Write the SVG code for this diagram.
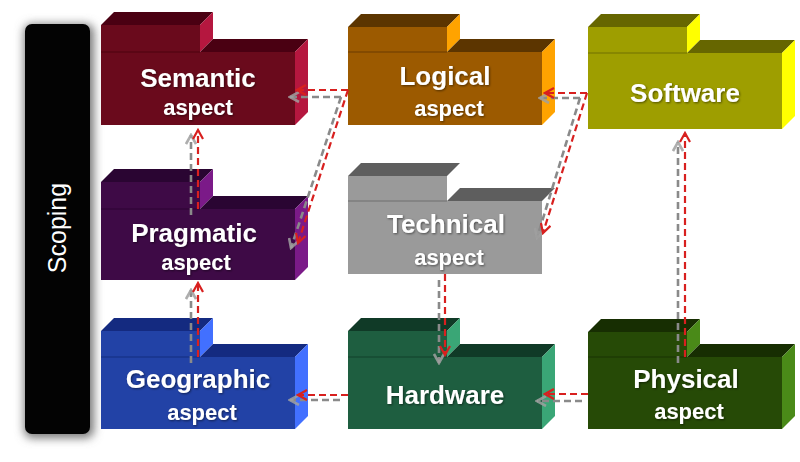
<svg xmlns="http://www.w3.org/2000/svg" width="800" height="462" viewBox="0 0 800 462">
<defs>
<style>
.t{font-family:"Liberation Sans",Arial,sans-serif;font-weight:bold;fill:#fff;text-anchor:middle;filter:url(#ts)}
.big{font-size:26px}
.sm{font-size:22px}
.sep{stroke-width:1.2;stroke-opacity:0.6}
.r{fill:none;stroke:#d8201f;stroke-width:2.2;stroke-dasharray:7 4;marker-end:url(#ar)}
.g{fill:none;stroke:#8a8a8a;stroke-width:2.6;stroke-dasharray:7 4;marker-end:url(#ag)}
</style>
<filter id="ts" x="-10%" y="-20%" width="120%" height="150%">
<feDropShadow dx="1" dy="1" stdDeviation="0.8" flood-color="#000" flood-opacity="0.5"/>
</filter>
<filter id="bl" x="-30%" y="-10%" width="160%" height="120%">
<feGaussianBlur stdDeviation="5"/>
</filter>
<marker id="ar" viewBox="0 0 12 12" refX="10" refY="6" markerWidth="12" markerHeight="12" markerUnits="userSpaceOnUse" orient="auto">
<path d="M1,1 L10,6 L1,11" fill="none" stroke="#d8201f" stroke-width="2.2"/>
</marker>
<marker id="ag" viewBox="0 0 12 12" refX="10" refY="6" markerWidth="12" markerHeight="12" markerUnits="userSpaceOnUse" orient="auto">
<path d="M1,1 L10,6 L1,11" fill="none" stroke="#a0a0a0" stroke-width="2.6" stroke-opacity="0.85"/>
</marker>
</defs>
<rect width="800" height="462" fill="#fff"/>

<g id="scoping">
<rect x="24" y="24" width="70" height="414" rx="8" fill="#777" filter="url(#bl)"/>
<rect x="25" y="24" width="65" height="410" rx="7" fill="#030303"/>
<text transform="translate(66,228) rotate(-90)" style="font-family:'Liberation Sans',Arial,sans-serif;font-size:25px;fill:#fff;text-anchor:middle">Scoping</text>
</g>

<g id="semantic">
<polygon points="101,25 200,25 200,52 295,52 295,125 101,125" fill="#6a0a1c"/>
<polygon points="101,25 114,12 213,12 200,25" fill="#4a0012"/>
<polygon points="200,25 213,12 213,39 200,52" fill="#b5173f"/>
<polygon points="200,52 213,39 308,39 295,52" fill="#4a0012"/>
<polygon points="295,52 308,39 308,112 295,125" fill="#b5173f"/>
<line x1="101" y1="52" x2="200" y2="52" class="sep" stroke="#3a0008"/>
<text class="t big" x="198" y="87">Semantic</text>
<text class="t sm" x="198" y="115">aspect</text>
</g>

<g id="logical">
<polygon points="348,27 447,27 447,52 542,52 542,125 348,125" fill="#9c5a00"/>
<polygon points="348,27 361,14 460,14 447,27" fill="#5c3500"/>
<polygon points="447,27 460,14 460,39 447,52" fill="#ffa300"/>
<polygon points="447,52 460,39 555,39 542,52" fill="#5c3500"/>
<polygon points="542,52 555,39 555,112 542,125" fill="#ffa300"/>
<line x1="348" y1="52" x2="447" y2="52" class="sep" stroke="#4a2a00"/>
<text class="t big" x="445" y="85">Logical</text>
<text class="t sm" x="449" y="116">aspect</text>
</g>

<g id="software">
<polygon points="588,27 687,27 687,53 782,53 782,129 588,129" fill="#9e9e00"/>
<polygon points="588,27 601,14 700,14 687,27" fill="#666600"/>
<polygon points="687,27 700,14 700,40 687,53" fill="#ffff00"/>
<polygon points="687,53 700,40 795,40 782,53" fill="#666600"/>
<polygon points="782,53 795,40 795,116 782,129" fill="#ffff00"/>
<line x1="588" y1="53" x2="687" y2="53" class="sep" stroke="#555500"/>
<text class="t big" x="685" y="102">Software</text>
</g>

<g id="pragmatic">
<polygon points="101,182 200,182 200,209 295,209 295,280 101,280" fill="#3e0a46"/>
<polygon points="101,182 114,169 213,169 200,182" fill="#2a0532"/>
<polygon points="200,182 213,169 213,196 200,209" fill="#7b1a88"/>
<polygon points="200,209 213,196 308,196 295,209" fill="#2a0532"/>
<polygon points="295,209 308,196 308,267 295,280" fill="#7b1a88"/>
<line x1="101" y1="209" x2="200" y2="209" class="sep" stroke="#22002a"/>
<text class="t big" x="194" y="242">Pragmatic</text>
<text class="t sm" x="196" y="270">aspect</text>
</g>

<g id="technical">
<polygon points="348,176 447,176 447,201 542,201 542,274 348,274" fill="#9a9a9a"/>
<polygon points="348,176 361,163 460,163 447,176" fill="#5e5e5e"/>
<polygon points="447,201 460,188 555,188 542,201" fill="#5e5e5e"/>
<line x1="348" y1="201" x2="447" y2="201" class="sep" stroke="#555"/>
<text class="t big" x="446" y="233">Technical</text>
<text class="t sm" x="449" y="265">aspect</text>
</g>

<g id="geographic">
<polygon points="101,331 200,331 200,357 295,357 295,429 101,429" fill="#2242a6"/>
<polygon points="101,331 114,318 213,318 200,331" fill="#142a80"/>
<polygon points="200,331 213,318 213,344 200,357" fill="#4270ff"/>
<polygon points="200,357 213,344 308,344 295,357" fill="#142a80"/>
<polygon points="295,357 308,344 308,416 295,429" fill="#4270ff"/>
<line x1="101" y1="357" x2="200" y2="357" class="sep" stroke="#0c1f66"/>
<text class="t big" x="198" y="388">Geographic</text>
<text class="t sm" x="202" y="420">aspect</text>
</g>

<g id="hardware">
<polygon points="348,331 447,331 447,357 542,357 542,429 348,429" fill="#1e5e40"/>
<polygon points="348,331 361,318 460,318 447,331" fill="#103a27"/>
<polygon points="447,331 460,318 460,344 447,357" fill="#3aa676"/>
<polygon points="447,357 460,344 555,344 542,357" fill="#103a27"/>
<polygon points="542,357 555,344 555,416 542,429" fill="#3aa676"/>
<line x1="348" y1="357" x2="447" y2="357" class="sep" stroke="#0a2e1e"/>
<text class="t big" x="445" y="404">Hardware</text>
</g>

<g id="physical">
<polygon points="588,332 687,332 687,357 782,357 782,429 588,429" fill="#264a06"/>
<polygon points="588,332 601,319 700,319 687,332" fill="#172e02"/>
<polygon points="687,332 700,319 700,344 687,357" fill="#4a8a18"/>
<polygon points="687,357 700,344 795,344 782,357" fill="#172e02"/>
<polygon points="782,357 795,344 795,416 782,429" fill="#4a8a18"/>
<line x1="588" y1="357" x2="687" y2="357" class="sep" stroke="#102400"/>
<text class="t big" x="686" y="388">Physical</text>
<text class="t sm" x="689" y="419">aspect</text>
</g>

<g id="connectors">
<path class="g" d="M341,97 H290"/>
<path class="g" d="M341,97 L291,248"/>
<path class="r" d="M348,90 H297"/>
<path class="r" d="M348,90 L298,243"/>
<path class="g" d="M580,98 H540"/>
<path class="g" d="M580,98 L537,238"/>
<path class="r" d="M587,93 H545"/>
<path class="r" d="M587,93 L543,233"/>
<path class="g" d="M191,215 V135"/>
<path class="r" d="M198,209 V130"/>
<path class="g" d="M191,363 V290"/>
<path class="r" d="M198,357 V283"/>
<path class="g" d="M439,280 V363"/>
<path class="r" d="M445,274 V355"/>
<path class="g" d="M678,363 V142"/>
<path class="r" d="M685,357 V133"/>
<path class="g" d="M340,400 H290"/>
<path class="r" d="M348,395 H298"/>
<path class="g" d="M582,401 H537"/>
<path class="r" d="M588,394 H545"/>
</g>
</svg>
